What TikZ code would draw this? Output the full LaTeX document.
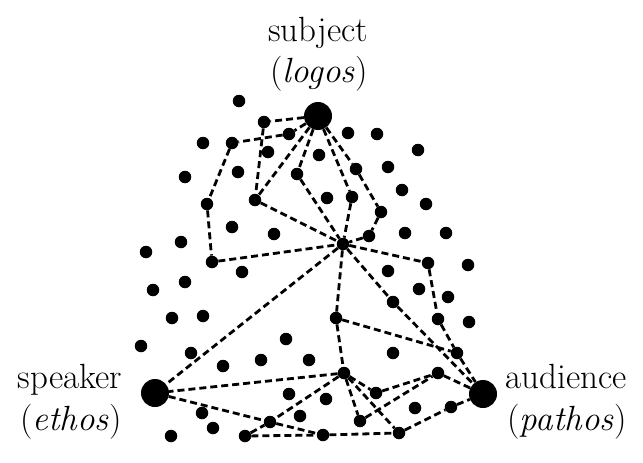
\documentclass[tikz,border=0pt]{standalone}
\begin{document}
\begin{tikzpicture}[x=1pt,y=-1pt,
  dot/.style={circle,fill=black,inner sep=0pt,minimum size=12.5pt},
  bigdot/.style={circle,fill=black,inner sep=0pt,minimum size=28pt},
  link/.style={line width=2.8pt,dash pattern=on 7pt off 4pt},
  lbl/.style={font=\fontsize{35}{40}\selectfont,inner sep=0pt,anchor=base}]
\useasboundingbox[fill=white] (0,0) rectangle (643,463);
% labels
\node[lbl] (tsub) at (318,41) {subject};
\node[lbl] (tlog) at (319,82) {(\textit{logos})};
\node[lbl] (tspk) at (70,388) {speaker};
\node[lbl] (teth) at (71,430) {(\textit{ethos})};
\node[lbl] (taud) at (566,388) {audience};
\node[lbl] (tpat) at (567,430) {(\textit{pathos})};
% main nodes
\node[bigdot] (S) at (318,116) {};
\node[bigdot] (E) at (155,393) {};
\node[bigdot] (A) at (483,394) {};
\node[dot] (H) at (343,244) {};
% connected dots
\node[dot] (c1) at (264,122) {};
\node[dot] (c2) at (289,134) {};
\node[dot] (c3) at (232,143) {};
\node[dot] (c4) at (207,204) {};
\node[dot] (c5) at (212,262) {};
\node[dot] (c6) at (255,200) {};
\node[dot] (c7) at (297,174) {};
\node[dot] (c8) at (356,169) {};
\node[dot] (c9) at (352,197) {};
\node[dot] (c10) at (381,212) {};
\node[dot] (c11) at (369,236) {};
\node[dot] (c12) at (428,263) {};
\node[dot] (c13) at (393,302) {};
\node[dot] (c14) at (336,318) {};
\node[dot] (c15) at (438,319) {};
\node[dot] (c16) at (457,353) {};
\node[dot] (c17) at (344,373) {};
\node[dot] (c18) at (376,393) {};
\node[dot] (c19) at (438,373) {};
\node[dot] (c20) at (451,407) {};
\node[dot] (c21) at (360,421) {};
\node[dot] (c22) at (399,433) {};
\node[dot] (c23) at (323,435) {};
\node[dot] (c24) at (270,422) {};
\node[dot] (c25) at (245,436) {};
% loose dots
\foreach \x/\y [count=\i] in {239/101,203/143,185/177,238/172,268/152,319/155,348/133,377/134,418/150,388/167,402/190,327/198,426/204,405/233,446/233,468/265,388/271,419/289,448/297,469/322,393/353,309/360,326/399,415/408,232/227,181/242,146/252,242/272,185/282,153/290,172/318,203/316,274/234,286/339,141/346,191/353,261/360,223/366,289/394,202/413,300/416,171/436,213/428}
  \node[dot] (u\i) at (\x,\y) {};
% connectors
\foreach \a/\b in {S/c1,S/c2,S/c6,S/c7,S/c8,S/c9,c1/c6,c2/c3,c3/c4,c4/c5,c5/H,c6/H,c7/H,c9/H,c8/c10,c10/c11,c11/H,H/c12,H/c13,H/c14,H/E,c12/c15,c15/c16,c16/A,c13/A,c14/c16,c14/c17,c17/E,c17/c18,c17/c21,c17/c22,c17/c24,c18/c19,c19/A,c21/c19,c22/c20,c20/A,c23/c22,E/c24,c24/c23,c25/c24,c25/c23}
  \draw[link] (\a) -- (\b);
\end{tikzpicture}
\end{document}
